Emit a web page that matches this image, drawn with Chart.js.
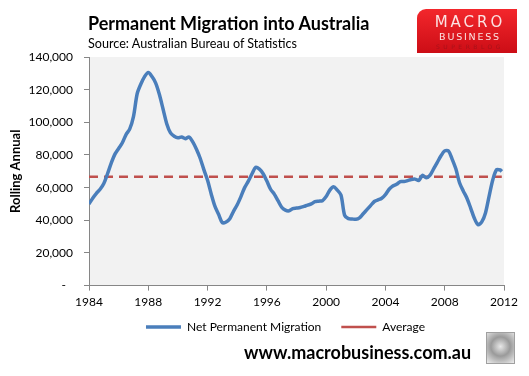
<!DOCTYPE html>
<html>
<head>
<meta charset="utf-8">
<script src="https://cdn.jsdelivr.net/npm/chart.js@4.4.1/dist/chart.umd.min.js"></script>
<style>
    body { margin: 0; background: #fff; font-family: Lato, "Open Sans", sans-serif; }
    #page { position: relative; width: 529px; height: 376px; overflow: hidden; }
    #chart { position: absolute; left: 0; top: 0; }
    .title { position: absolute; left: 88px; top: 12px; font: bold 18px Lato, sans-serif; color: #000; }
    .source { position: absolute; left: 88px; top: 36px; font: 12.6px Lato, sans-serif; color: #000; }
    .logo { position: absolute; left: 417px; top: 9px; width: 100px; height: 44px;
            background: linear-gradient(to bottom, #f3272c, #cc0d16); border-top-left-radius: 9px;
            color: #fbe3e3; text-align: center; font-family: "DejaVu Sans", sans-serif; }
    .logo .l1 { position: absolute; left: 0; right: 0; top: 4px; font-size: 15px; letter-spacing: 3px; padding-left: 6px; }
    .logo .l2 { position: absolute; left: 0; right: 0; top: 22px; font-size: 9.5px; letter-spacing: 1.8px; padding-left: 6px; }
    .logo .l3 { position: absolute; left: 0; right: 0; top: 34px; font-size: 6px; letter-spacing: 3.5px; padding-left: 6px; color: #a8121a; }
    .site { position: absolute; left: 244px; top: 341px; font: bold 18px Lato, sans-serif; color: #000; }
    .wolf { position: absolute; left: 486px; top: 332px; width: 27px; height: 30px; border: 1px solid #a0a0a0;
            background: radial-gradient(circle at 50% 45%, #e8e8e8 0%, #9a9a9a 45%, #c8c8c8 75%, #eeeeee 100%); }
</style>
</head>
<body>
<div id="page">
    <canvas id="chart" width="529" height="376"></canvas>
    <div class="title">Permanent Migration into Australia</div>
    <div class="source">Source: Australian Bureau of Statistics</div>
    <div class="logo"><div class="l1">MACRO</div><div class="l2">BUSINESS</div><div class="l3">SUPERBLOG</div></div>
    <div class="site">www.macrobusiness.com.au</div>
    <div class="wolf"></div>
</div>
<script>
// quarterly readings, rolling annual net permanent migration
const quarterYears = [
    1984, 1984.25, 1984.5, 1984.75,
    1985, 1985.25, 1985.5, 1985.75,
    1986, 1986.25, 1986.5, 1986.75,
    1987, 1987.25, 1987.5, 1987.75,
    1988, 1988.25, 1988.5, 1988.75,
    1989, 1989.25, 1989.5, 1989.75,
    1990, 1990.25, 1990.5, 1990.75,
    1991, 1991.25, 1991.5, 1991.75,
    1992, 1992.25, 1992.5, 1992.75,
    1993, 1993.25, 1993.5, 1993.75,
    1994, 1994.25, 1994.5, 1994.75,
    1995, 1995.25, 1995.5, 1995.75,
    1996, 1996.25, 1996.5, 1996.75,
    1997, 1997.25, 1997.5, 1997.75,
    1998, 1998.25, 1998.5, 1998.75,
    1999, 1999.25, 1999.5, 1999.75,
    2000, 2000.25, 2000.5, 2000.75,
    2001, 2001.25, 2001.5, 2001.75,
    2002, 2002.25, 2002.5, 2002.75,
    2003, 2003.25, 2003.5, 2003.75,
    2004, 2004.25, 2004.5, 2004.75,
    2005, 2005.25, 2005.5, 2005.75,
    2006, 2006.25, 2006.5, 2006.75,
    2007, 2007.25, 2007.5, 2007.75,
    2008, 2008.25, 2008.5, 2008.75,
    2009, 2009.25, 2009.5, 2009.75,
    2010, 2010.25, 2010.5, 2010.75,
    2011, 2011.25, 2011.5, 2011.75, 2011.85
];
const netMigration = [
    50000, 53500, 56500, 59000,
    62500, 68500, 75000, 80500,
    84000, 87500, 92500, 96000,
    103500, 117500, 123500, 128000,
    130500, 128000, 124000, 117000,
    108000, 99000, 93500, 91500,
    90500, 91000, 90000, 91000,
    88000, 83500, 78000, 71000,
    64500, 56000, 48500, 43500,
    38500, 39000, 41000, 45500,
    49500, 54500, 60000, 64000,
    68500, 72500, 71300, 68500,
    64000, 59000, 56000, 52000,
    48000, 46200, 45800, 47200,
    47500, 47800, 48500, 49300,
    50000, 51400, 51700, 52000,
    54500, 58500, 60500, 58500,
    55500, 43000, 41000, 40800,
    40600, 41500, 44000, 46500,
    49000, 51500, 52500, 53500,
    55700, 59000, 61000, 62000,
    63700, 63700, 64300, 65000,
    65200, 64400, 67500, 66000,
    67500, 71500, 75500, 79500,
    82500, 82500, 77500, 71500,
    63000, 58000, 53500, 47500,
    41200, 37300, 39000, 44500,
    55000, 65000, 71000, 70800, 69900
];
const averageMigration = 66700;
const yearTicks = [1984, 1988, 1992, 1996, 2000, 2004, 2008, 2012];

const plotBackground = {
    id: 'plotBackground',
    beforeDraw(chart) {
        const { ctx, chartArea } = chart;
        ctx.save();
        ctx.fillStyle = '#f2f2f2';
        ctx.fillRect(chartArea.left, chartArea.top, chartArea.right - chartArea.left, chartArea.bottom - chartArea.top);
        ctx.restore();
    }
};

// the original legend sits a bit left of the plot centre and close under the axis
const legendShift = {
    id: 'legendShift',
    afterLayout(chart) {
        const legend = chart.legend;
        legend.left -= 11;
        legend.right -= 11;
        legend.top -= 12;
        legend.bottom -= 12;
    }
};

function initializeChart() {
    const ctx = document.getElementById('chart').getContext('2d');
    const axisGrey = '#868686';

    const data = {
        datasets: [{
            label: 'Net Permanent Migration',
            data: quarterYears.map((x, i) => ({ x: x, y: netMigration[i] })),
            borderColor: '#4a7ebb',
            borderWidth: 3.5,
            pointRadius: 0,
            tension: 0.3
        }, {
            label: 'Average',
            data: [
                { x: quarterYears[0], y: averageMigration },
                { x: quarterYears[quarterYears.length - 1], y: averageMigration }
            ],
            borderColor: '#c0504d',
            borderWidth: 2.5,
            borderDash: [9, 6],
            pointRadius: 0
        }]
    };

    const config = {
        type: 'line',
        data: data,
        plugins: [plotBackground, legendShift],
        options: {
            responsive: false,
            animation: false,
            layout: {
                padding: { left: 0, right: 25, top: 57, bottom: 21 }
            },
            plugins: {
                legend: {
                    display: true,
                    position: 'bottom',
                    fullSize: false,
                    labels: {
                        usePointStyle: true,
                        pointStyle: 'line',
                        pointStyleWidth: 35,
                        boxHeight: 12,
                        padding: 20,
                        color: '#000',
                        font: { family: 'Lato', size: 12 }
                    }
                },
                tooltip: { enabled: false }
            },
            scales: {
                x: {
                    type: 'linear',
                    min: 1984,
                    max: 2012,
                    afterBuildTicks: function (scale) {
                        scale.ticks = yearTicks.map(v => ({ value: v }));
                    },
                    ticks: {
                        color: '#000',
                        padding: 4,
                        maxRotation: 0,
                        font: { family: 'Lato', size: 12 },
                        callback: function (value) {
                            return String(value);
                        }
                    },
                    grid: { drawOnChartArea: false, tickLength: 5, color: axisGrey },
                    border: { color: axisGrey }
                },
                y: {
                    min: 0,
                    max: 140000,
                    afterFit: function (scale) {
                        scale.width = 89;
                    },
                    ticks: {
                        stepSize: 20000,
                        color: '#000',
                        padding: 11,
                        font: { family: 'Lato', size: 12 },
                        callback: function (value) {
                            return value === 0 ? '-\u2007' : value.toLocaleString('en-US');
                        }
                    },
                    title: {
                        display: true,
                        text: 'Rolling Annual',
                        color: '#000',
                        padding: { top: 8, bottom: 0 },
                        font: { family: 'Lato', size: 13, weight: 'bold' }
                    },
                    grid: { drawOnChartArea: false, tickLength: 5, color: axisGrey },
                    border: { color: axisGrey }
                }
            }
        }
    };

    new Chart(ctx, config);
}

document.addEventListener('DOMContentLoaded', initializeChart);
</script>
</body>
</html>
